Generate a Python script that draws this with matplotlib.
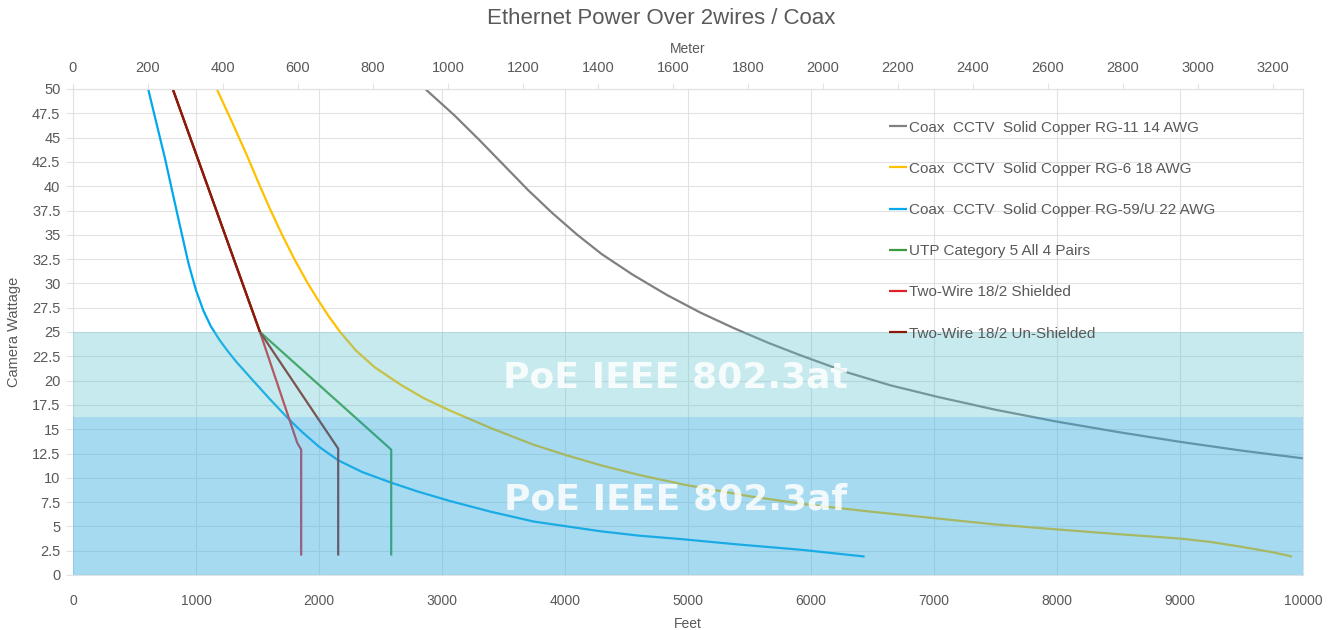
import matplotlib
matplotlib.use("Agg")
import matplotlib.pyplot as plt

# ---- data (feet, watts) ----
rg11_ft = [2864, 3100, 3300, 3500, 3700, 3900, 4100, 4300, 4550, 4830, 5100, 5372, 5650, 5915,
           6306, 6650, 7038, 7500, 7990, 8500, 9000, 9500, 10000]
rg11_w = [50, 47.3, 44.8, 42.2, 39.6, 37.2, 35.0, 33.0, 30.9, 28.8, 27.0, 25.4, 23.9, 22.6,
          20.8, 19.5, 18.3, 17.0, 15.8, 14.7, 13.7, 12.8, 12.0]

rg6_ft = [1169, 1300, 1413, 1500, 1600, 1700, 1800, 1900, 1982, 2080, 2172, 2300, 2450, 2661,
          2850, 3068, 3400, 3745, 4017, 4288, 4600, 4966, 5500, 6000, 6500, 7038, 7500, 7990,
          8500, 9000, 9250, 9500, 9750, 9911]
rg6_w = [50, 46.4, 43.2, 40.6, 37.7, 35.0, 32.5, 30.2, 28.5, 26.6, 25.0, 23.1, 21.4, 19.6,
         18.2, 16.9, 15.1, 13.4, 12.3, 11.3, 10.3, 9.3, 8.1, 7.2, 6.5, 5.8, 5.2, 4.7,
         4.2, 3.75, 3.4, 2.9, 2.35, 1.9]

rg59_ft = [611, 680, 749, 810, 870, 940, 1000, 1060, 1120, 1190, 1260, 1330, 1450, 1600, 1738, 1855,
           2000, 2156, 2350, 2587, 2800, 3068, 3400, 3745, 4017, 4288, 4600, 4966, 5400, 5915, 6436]
rg59_w = [50, 46.4, 42.8, 39.3, 35.9, 32.0, 29.3, 27.2, 25.6, 24.2, 23.0, 21.9, 20.2, 18.1, 16.25, 14.8,
          13.2, 11.8, 10.6, 9.5, 8.6, 7.6, 6.5, 5.5, 5.0, 4.5, 4.05, 3.67, 3.15, 2.6, 1.9]

utp_ft = [811, 1520, 2587, 2587]
utp_w = [50, 25, 12.9, 2]

shield_ft = [811, 1520, 1823, 1855, 1855]
shield_w = [50, 25, 13.6, 12.9, 2]

unshield_ft = [811, 1520, 2156, 2156]
unshield_w = [50, 25, 13, 2]

series = [
    ("Coax  CCTV  Solid Copper RG-11 14 AWG", rg11_ft, rg11_w, "#808080"),
    ("Coax  CCTV  Solid Copper RG-6 18 AWG", rg6_ft, rg6_w, "#ffc000"),
    ("Coax  CCTV  Solid Copper RG-59/U 22 AWG", rg59_ft, rg59_w, "#00a8ec"),
    ("UTP Category 5 All 4 Pairs", utp_ft, utp_w, "#3c9a3c"),
    ("Two-Wire 18/2 Shielded", shield_ft, shield_w, "#e0202a"),
    ("Two-Wire 18/2 Un-Shielded", unshield_ft, unshield_w, "#8b1a0a"),
]

# PoE bands (watts)
poe_at = 25.0
poe_af = 16.25

TXT = "#595959"
GRID = "#e2e2e2"
FONT = ["Liberation Sans", "DejaVu Sans"]

plt.rcParams["font.family"] = FONT

fig = plt.figure(figsize=(13.41, 6.30), dpi=100)
ax = fig.add_axes([73 / 1341, 1 - 575 / 630, 1230 / 1341, 486 / 630])

for label, xs, ys, c in series:
    ax.plot(xs, ys, color=c, lw=1.6, label=label, zorder=2,
            solid_joinstyle="round", solid_capstyle="butt")

# translucent bands drawn over the lines
ax.fill_between([0, 10000], poe_af, poe_at, color="#5cc3ce", alpha=0.35, lw=0, zorder=3)
ax.fill_between([0, 10000], 0, poe_af, color="#3bafde", alpha=0.45, lw=0, zorder=3)

ax.text(4900, 20.3, "PoE IEEE 802.3at", ha="center", va="center", color="white", alpha=0.85,
        fontsize=26, fontweight="bold", family="DejaVu Sans", zorder=4)
ax.text(4900, 7.8, "PoE IEEE 802.3af", ha="center", va="center", color="white", alpha=0.85,
        fontsize=26, fontweight="bold", family="DejaVu Sans", zorder=4)

ax.set_xlim(0, 10000)
ax.set_ylim(0, 50)
ax.set_xticks(range(0, 10001, 1000))
ax.set_yticks([i * 2.5 for i in range(21)])
ax.set_yticklabels([("%g" % (i * 2.5)) for i in range(21)])
ax.grid(True, color=GRID, lw=0.8, zorder=0)
ax.set_axisbelow(True)
for s in ax.spines.values():
    s.set_color(GRID)
    s.set_linewidth(0.8)

ax.tick_params(axis="x", length=0, pad=14, labelsize=10, labelcolor=TXT)
ax.tick_params(axis="y", length=5, color=GRID, pad=4, labelsize=10.5, labelcolor=TXT)

ax.set_xlabel("Feet", fontsize=10, color=TXT, labelpad=6)
ax.set_ylabel("Camera Wattage", fontsize=10.5, color=TXT, labelpad=8)

top = ax.secondary_xaxis("top", functions=(lambda f: f / 3.048, lambda m: m * 3.048))
top.set_xticks(range(0, 3201, 200))
top.tick_params(length=4, color=GRID, pad=6, labelsize=10.5, labelcolor=TXT)
top.spines["top"].set_color(GRID)
top.set_xlabel("Meter", fontsize=10, color=TXT, labelpad=6)

leg = ax.legend(loc="upper left", bbox_to_anchor=(881 / 1341, 1 - 113 / 630),
                bbox_transform=fig.transFigure, frameon=False, fontsize=11,
                handlelength=1.2, handletextpad=0.15, labelspacing=1.78, borderpad=0)
for t in leg.get_texts():
    t.set_color(TXT)
leg.set_zorder(5)

fig.text(661 / 1341, 1 - 18 / 630, "Ethernet Power Over 2wires / Coax", ha="center", va="center",
         fontsize=16, color=TXT)

fig.savefig("out.png", dpi=100)
